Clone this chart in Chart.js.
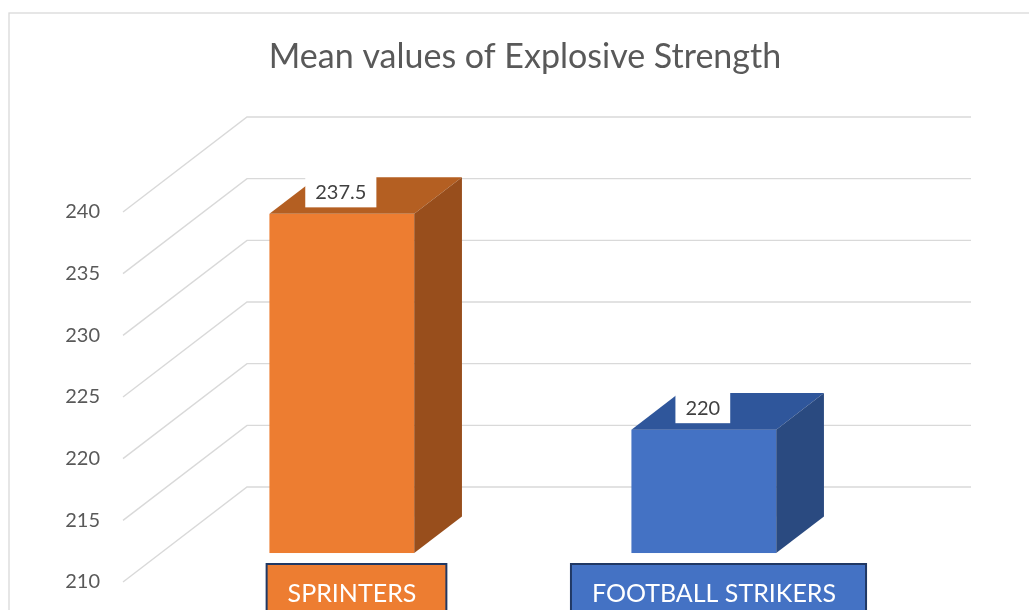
<!DOCTYPE html>
<html><head><meta charset="utf-8">
<script src="https://cdn.jsdelivr.net/npm/chart.js@4.4.1/dist/chart.umd.min.js"></script>
<style>html,body{margin:0;padding:0;background:#fff;overflow:hidden} #wrap{width:1029px;height:610px;position:relative;overflow:hidden}</style>
</head><body><div id="wrap"><canvas id="c" width="1029" height="617"></canvas></div>
<script>
const categories = ['SPRINTERS', 'FOOTBALL STRIKERS'];
const values = [237.5, 220];
const yTicks = [210, 215, 220, 225, 230, 235, 240];
const chartTitle = 'Mean values of Explosive Strength';
const frontColors = ['#ED7D31', '#4472C4'];
const topColors = ['#B45F22', '#2F569B'];
const sideColors = ['#984E1C', '#2A4A80'];

const FONT = 'Lato, "Open Sans", sans-serif';
const DX = 124, DY = -95;
const F0 = 0.305, F1 = 0.69;

const threeD = {
  id: 'threeD',
  beforeDraw(chart) {
    const ctx = chart.ctx;
    ctx.save();
    ctx.fillStyle = '#fff';
    ctx.fillRect(0, 0, chart.width, chart.height);
    ctx.strokeStyle = '#d9d9d9';
    ctx.lineWidth = 1.3;
    ctx.strokeRect(9, 13, 1200, 800);
    ctx.fillStyle = '#595959';
    ctx.font = '34px ' + FONT;
    ctx.textAlign = 'center';
    ctx.textBaseline = 'middle';
    ctx.fillText(chartTitle, 525, 57);
    ctx.restore();
  },
  beforeDatasetsDraw(chart) {
    const ctx = chart.ctx, a = chart.chartArea, ys = chart.scales.y;
    ctx.save();
    ctx.strokeStyle = '#d9d9d9';
    ctx.lineWidth = 1.4;
    yTicks.forEach(v => {
      const y = ys.getPixelForValue(v);
      ctx.beginPath();
      ctx.moveTo(a.left, y);
      ctx.lineTo(a.left + DX, y + DY);
      ctx.lineTo(a.right + DX, y + DY);
      ctx.stroke();
    });
    ctx.restore();
  },
  afterDatasetsDraw(chart) {
    const ctx = chart.ctx, ys = chart.scales.y;
    const meta = chart.getDatasetMeta(0);
    const floorY = ys.getPixelForValue(ys.min);
    ctx.save();
    meta.data.forEach((el, i) => {
      const p = el.getProps(['x', 'y', 'base', 'width'], true);
      const w = p.width;
      const x0 = p.x - w / 2 + DX * F0, x1 = x0 + w;
      const yt = p.y + DY * F0, yb = p.base + DY * F0;
      const ddx = DX * (F1 - F0), ddy = DY * (F1 - F0);
      ctx.fillStyle = frontColors[i];
      ctx.fillRect(x0, yt, w, yb - yt);
      ctx.fillStyle = topColors[i];
      ctx.beginPath();
      ctx.moveTo(x0, yt); ctx.lineTo(x1, yt); ctx.lineTo(x1 + ddx, yt + ddy); ctx.lineTo(x0 + ddx, yt + ddy);
      ctx.closePath(); ctx.fill();
      ctx.fillStyle = sideColors[i];
      ctx.beginPath();
      ctx.moveTo(x1, yt); ctx.lineTo(x1 + ddx, yt + ddy); ctx.lineTo(x1 + ddx, yb + ddy); ctx.lineTo(x1, yb);
      ctx.closePath(); ctx.fill();

      ctx.font = '20px ' + FONT;
      const txt = String(values[i]);
      const tw = ctx.measureText(txt).width;
      const cx = x0 + w / 2 - 1, cy = yt - 22;
      ctx.fillStyle = '#fff';
      ctx.fillRect(cx - tw / 2 - 10, cy - 15.5, tw + 20, 31);
      ctx.fillStyle = '#404040';
      ctx.textAlign = 'center';
      ctx.textBaseline = 'middle';
      ctx.fillText(txt, cx, cy + 1);

      ctx.font = '25px ' + FONT;
      const lab = categories[i];
      const lw = ctx.measureText(lab).width;
      const lx = p.x + 48;
      const top = floorY - 18;
      ctx.fillStyle = frontColors[i];
      ctx.fillRect(lx - lw / 2 - 21, top, lw + 51, 80);
      ctx.strokeStyle = '#203864';
      ctx.lineWidth = 2;
      ctx.strokeRect(lx - lw / 2 - 21, top, lw + 51, 80);
      ctx.fillStyle = '#ffffff';
      ctx.textAlign = 'center';
      ctx.textBaseline = 'alphabetic';
      ctx.fillText(lab, lx, floorY + 20);
    });
    ctx.restore();
  }
};

new Chart(document.getElementById('c'), {
  type: 'bar',
  data: {
    labels: categories,
    datasets: [{
      data: values,
      base: 210,
      backgroundColor: 'rgba(0,0,0,0)',
      borderWidth: 0,
      barPercentage: 0.4,
      categoryPercentage: 1.0
    }]
  },
  options: {
    responsive: false,
    animation: false,
    events: [],
    layout: { padding: { top: 212, bottom: 20, left: 0, right: 182 } },
    plugins: { legend: { display: false }, title: { display: false }, tooltip: { enabled: false } },
    scales: {
      x: { display: false, offset: true },
      y: {
        min: 210, max: 240,
        afterFit(s) { s.width = 123; },
        afterBuildTicks(s) { s.ticks = yTicks.map(v => ({ value: v })); },
        grid: { display: false, drawTicks: false },
        border: { display: false },
        ticks: { padding: 23, color: '#595959', font: { family: FONT, size: 20 } }
      }
    }
  },
  plugins: [threeD]
});
</script>
</body></html>
